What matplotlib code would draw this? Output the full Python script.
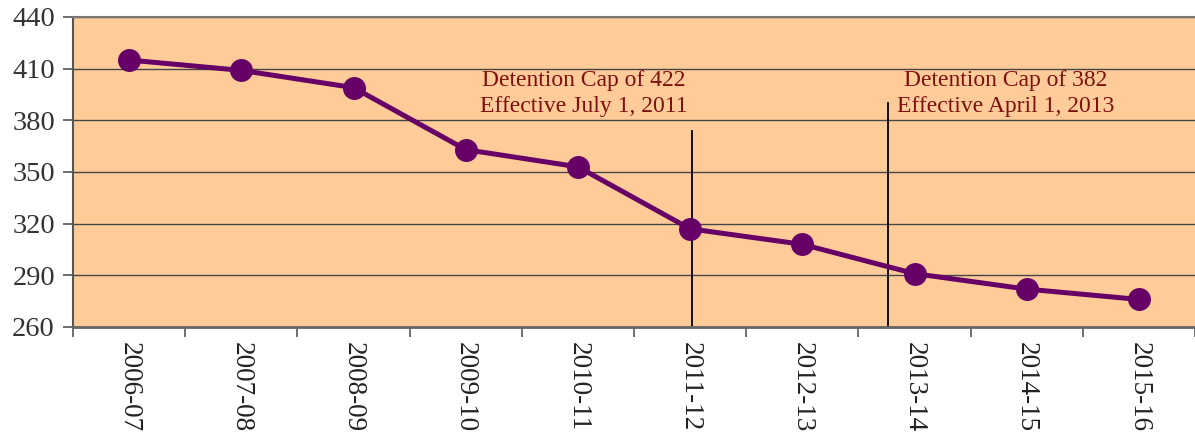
import numpy as np
import matplotlib.pyplot as plt

years = ["2006-07", "2007-08", "2008-09", "2009-10", "2010-11",
         "2011-12", "2012-13", "2013-14", "2014-15", "2015-16"]
population = [415, 409, 399, 363, 353, 317, 308, 291, 282, 276]

# cap markers: (category position, top of line, label)
cap_x = [5.02, 6.76]
cap_top = [374, 390]
cap_labels = ["Detention Cap of 422\nEffective July 1, 2011",
              "Detention Cap of 382\nEffective April 1, 2013"]
cap_text_x = [4.05, 7.81]

plt.rcParams.update({
    "font.family": "Liberation Serif",
    "font.size": 16,
})

fig = plt.figure(figsize=(11.95, 4.36), dpi=100)
ax = fig.add_axes([73 / 1195, 1 - 327 / 436, 1122 / 1195, 310 / 436])
ax.set_facecolor("#FFCC99")

x = np.arange(len(years))
ax.plot(x, population, color="#660066", lw=3.6, marker="o",
        markersize=15.5, zorder=3)

ax.set_xlim(-0.5, len(years) - 0.5)
ax.set_ylim(260, 440)
ax.set_yticks(np.arange(260, 441, 30))
ax.set_yticklabels([str(v) for v in range(260, 441, 30)], fontsize=20.5)
ax.yaxis.grid(True, color="#444444", lw=1.0)
ax.set_axisbelow(True)

ax.set_xticks(x)
ax.set_xticklabels(years, rotation=-90, color="#222222", fontsize=19.5)
ax.set_xticks(np.arange(-0.5, len(years)), minor=True)
ax.tick_params(axis="x", which="major", length=0, pad=11)
ax.tick_params(axis="x", which="minor", length=7, width=1.2, color="#555555")
ax.tick_params(axis="y", length=7, width=1.2, color="#555555",
               labelcolor="#333333", pad=6)

for xi, top, lab, tx in zip(cap_x, cap_top, cap_labels, cap_text_x):
    ax.plot([xi, xi], [260, top], color="black", lw=1.3, zorder=2)
    ax.text(tx, 395.5, lab, ha="center", va="center", color="#7F1010",
            fontsize=17, linespacing=1.3)

ax.spines["right"].set_visible(False)
ax.spines["top"].set_color("#777777")
ax.spines["top"].set_linewidth(1.5)
ax.spines["left"].set_color("#555555")
ax.spines["left"].set_linewidth(1.5)
ax.spines["bottom"].set_color("#666666")
ax.spines["bottom"].set_linewidth(2)

plt.savefig("out.png", dpi=100)
